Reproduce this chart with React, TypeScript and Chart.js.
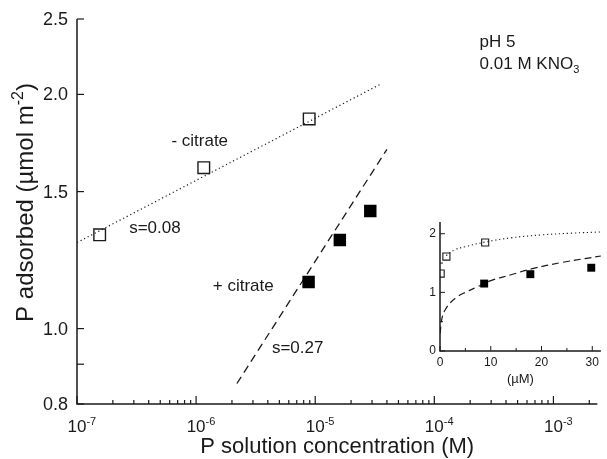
import React, { useEffect, useRef } from 'react';
import { Chart, registerables } from 'chart.js';

Chart.register(...registerables);

// ---------- main chart data ----------
const X_DECADES = [-7, -6, -5, -4, -3];
const Y_TICKS = [0.8, 0.9, 1.0, 1.5, 2.0, 2.5];
const Y_LABELS = ['0.8', '', '1.0', '1.5', '2.0', '2.5'];

const NO_CITRATE_X = [1.55e-7, 1.16e-6, 8.9e-6];
const NO_CITRATE_Y = [1.32, 1.61, 1.86];
const CITRATE_X = [8.8e-6, 1.61e-5, 2.9e-5];
const CITRATE_Y = [1.148, 1.3, 1.416];
const FIT_NO_CITRATE_X = [1e-7, 3.5e-5];
const FIT_NO_CITRATE_Y = [1.29, 2.06];
const FIT_CITRATE_X = [2.2e-6, 4.0e-5];
const FIT_CITRATE_Y = [0.85, 1.7];

// annotations: text, x (M), y (baseline value)
const NOTE_TEXT = ['- citrate', 's=0.08', '+ citrate', 's=0.27', 'pH 5'];
const NOTE_X = [6.2e-7, 2.74e-7, 1.38e-6, 4.33e-6, 2.4e-4];
const NOTE_Y = [1.718, 1.328, 1.119, 0.931, 2.304];
const SALT_X = 2.4e-4;
const SALT_Y = 2.155;

// ---------- inset data (µM) ----------
const INSET_X_TICKS = [0, 10, 20, 30];
const INSET_X_MINOR = [5, 15, 25];
const INSET_Y_TICKS = [0, 1, 2];
const INSET_Y_MINOR = [0.5, 1.5];
const INSET_NO_CIT_X = [0.13, 1.26, 8.9];
const INSET_NO_CIT_Y = [1.32, 1.61, 1.85];
const INSET_CIT_X = [8.7, 17.8, 29.8];
const INSET_CIT_Y = [1.15, 1.31, 1.42];
const INSET_FIT_NO_CIT_X = [1.2, 3, 5, 9, 14, 20, 26, 31.7];
const INSET_FIT_NO_CIT_Y = [1.63, 1.73, 1.78, 1.86, 1.93, 1.98, 2.01, 2.03];
const INSET_FIT_CIT_X = [0.05, 0.2, 0.5, 1, 2, 3.5, 5, 7.5, 10, 14, 18, 24, 31.7];
const INSET_FIT_CIT_Y = [0.3, 0.45, 0.6, 0.7, 0.82, 0.93, 1.0, 1.1, 1.2, 1.3, 1.4, 1.51, 1.62];

const FONT = '"Liberation Sans", Arial, Helvetica, sans-serif';
const INK = '#1a1a1a';

const pts = (xs: number[], ys: number[]) => xs.map((x, i) => ({ x, y: ys[i] }));

type Run = { t: string; s?: number };
function drawRuns(ctx: CanvasRenderingContext2D, runs: Run[], x: number, y: number, size: number, align: 'left' | 'center' | 'right') {
  const fontFor = (s: number) => `${s ? Math.round(size * 0.65) : size}px ${FONT}`;
  let total = 0;
  const widths = runs.map((r) => {
    ctx.font = fontFor(r.s || 0);
    const w = ctx.measureText(r.t).width;
    total += w;
    return w;
  });
  let cx = align === 'left' ? x : align === 'center' ? x - total / 2 : x - total;
  ctx.textAlign = 'left';
  ctx.textBaseline = 'alphabetic';
  runs.forEach((r, i) => {
    ctx.font = fontFor(r.s || 0);
    const dy = r.s === 1 ? -size * 0.42 : r.s === -1 ? size * 0.22 : 0;
    ctx.fillText(r.t, cx, y + dy);
    cx += widths[i];
  });
}

const mainPlugin = {
  id: 'mainDecor',
  afterDraw(chart: any) {
    const { ctx, chartArea: a, scales } = chart;
    const xs = scales.x;
    const ys = scales.y;
    ctx.save();
    ctx.strokeStyle = INK;
    ctx.fillStyle = INK;
    ctx.lineWidth = 1.5;
    ctx.beginPath();
    ctx.moveTo(a.left, a.top);
    ctx.lineTo(a.left, a.bottom);
    ctx.lineTo(a.right, a.bottom);
    ctx.stroke();

    ctx.lineWidth = 1.2;
    Y_TICKS.forEach((v, i) => {
      const py = ys.getPixelForValue(v);
      ctx.beginPath();
      ctx.moveTo(a.left, py);
      ctx.lineTo(a.left + 7, py);
      ctx.stroke();
      if (Y_LABELS[i]) {
        ctx.font = `18px ${FONT}`;
        ctx.textAlign = 'right';
        ctx.textBaseline = 'middle';
        ctx.fillText(Y_LABELS[i], a.left - 9, py + 1);
      }
    });

    X_DECADES.forEach((d) => {
      for (let m = 1; m <= 9; m++) {
        const v = m * Math.pow(10, d);
        if (v > xs.max) break;
        const px = xs.getPixelForValue(v);
        const len = m === 1 ? 8 : 4;
        ctx.beginPath();
        ctx.moveTo(px, a.bottom);
        ctx.lineTo(px, a.bottom - len);
        ctx.stroke();
      }
      const px = xs.getPixelForValue(Math.pow(10, d));
      ctx.font = `17px ${FONT}`;
      const w10 = ctx.measureText('10').width;
      drawRuns(ctx, [{ t: '10' }, { t: '-' + String(-d), s: 1 }], px - w10 / 2, a.bottom + 28, 17, 'left');
    });

    // axis titles
    drawRuns(ctx, [{ t: 'P solution concentration (M)' }], (a.left + a.right) / 2, 453, 22, 'center');
    ctx.save();
    ctx.translate(33, (a.top + a.bottom) / 2 - 9);
    ctx.rotate(-Math.PI / 2);
    drawRuns(ctx, [{ t: 'P adsorbed (\u00b5mol m' }, { t: '-2', s: 1 }, { t: ')' }], 0, 0, 24, 'center');
    ctx.restore();

    // annotations
    NOTE_TEXT.forEach((t, i) => {
      drawRuns(ctx, [{ t }], xs.getPixelForValue(NOTE_X[i]), ys.getPixelForValue(NOTE_Y[i]), 17, 'left');
    });
    drawRuns(ctx, [{ t: '0.01 M KNO' }, { t: '3', s: -1 }], xs.getPixelForValue(SALT_X), ys.getPixelForValue(SALT_Y), 17, 'left');
    ctx.restore();
  },
};

const insetPlugin = {
  id: 'insetDecor',
  afterDraw(chart: any) {
    const { ctx, chartArea: a, scales } = chart;
    const xs = scales.x;
    const ys = scales.y;
    ctx.save();
    ctx.strokeStyle = INK;
    ctx.fillStyle = INK;
    ctx.lineWidth = 1.5;
    ctx.beginPath();
    ctx.moveTo(a.left, a.top);
    ctx.lineTo(a.left, a.bottom);
    ctx.lineTo(a.right, a.bottom);
    ctx.stroke();
    ctx.lineWidth = 1;
    const tickX = (v: number, len: number) => {
      const px = xs.getPixelForValue(v);
      ctx.beginPath();
      ctx.moveTo(px, a.bottom);
      ctx.lineTo(px, a.bottom - len);
      ctx.stroke();
      return px;
    };
    const tickY = (v: number, len: number) => {
      const py = ys.getPixelForValue(v);
      ctx.beginPath();
      ctx.moveTo(a.left, py);
      ctx.lineTo(a.left + len, py);
      ctx.stroke();
      return py;
    };
    INSET_X_MINOR.forEach((v) => tickX(v, 3));
    INSET_Y_MINOR.forEach((v) => tickY(v, 3));
    ctx.font = `12px ${FONT}`;
    INSET_X_TICKS.forEach((v) => {
      const px = tickX(v, 5);
      ctx.textAlign = 'center';
      ctx.textBaseline = 'alphabetic';
      ctx.fillText(String(v), px, a.bottom + 15);
    });
    INSET_Y_TICKS.forEach((v) => {
      const py = tickY(v, 5);
      ctx.textAlign = 'right';
      ctx.textBaseline = 'middle';
      ctx.fillText(String(v), a.left - 4, py);
    });
    drawRuns(ctx, [{ t: '(\u00b5M)' }], (a.left + a.right) / 2, a.bottom + 32, 13, 'center');
    ctx.restore();
  },
};

function MainChart() {
  const ref = useRef<HTMLCanvasElement | null>(null);
  useEffect(() => {
    if (!ref.current) return;
    const chart = new Chart(ref.current, {
      type: 'scatter',
      data: {
        datasets: [
          {
            label: 'no citrate',
            data: pts(NO_CITRATE_X, NO_CITRATE_Y),
            pointStyle: 'rect',
            pointRadius: 8.2,
            pointBorderWidth: 1.4,
            pointBorderColor: INK,
            pointBackgroundColor: 'rgba(0,0,0,0)',
            showLine: false,
          },
          {
            label: 'citrate',
            data: pts(CITRATE_X, CITRATE_Y),
            pointStyle: 'rect',
            pointRadius: 8.8,
            pointBorderWidth: 0,
            pointBackgroundColor: '#000',
            showLine: false,
          },
          {
            label: 'fit no citrate',
            data: pts(FIT_NO_CITRATE_X, FIT_NO_CITRATE_Y),
            showLine: true,
            pointRadius: 0,
            borderColor: INK,
            borderWidth: 1.2,
            borderDash: [1.2, 2.8],
          },
          {
            label: 'fit citrate',
            data: pts(FIT_CITRATE_X, FIT_CITRATE_Y),
            showLine: true,
            pointRadius: 0,
            borderColor: INK,
            borderWidth: 1.3,
            borderDash: [8, 5],
          },
        ],
      },
      options: {
        animation: false,
        responsive: true,
        maintainAspectRatio: false,
        layout: { padding: { top: 19, right: 1, left: 0, bottom: 0 } },
        plugins: { legend: { display: false }, tooltip: { enabled: false } },
        scales: {
          x: {
            type: 'logarithmic',
            min: 1e-7,
            max: 2.34e-3,
            grid: { display: false },
            border: { display: false },
            ticks: { display: false },
            afterFit: (s: any) => { s.height = 55; },
          },
          y: {
            type: 'logarithmic',
            min: 0.8,
            max: 2.5,
            grid: { display: false },
            border: { display: false },
            ticks: { display: false },
            afterFit: (s: any) => { s.width = 77; },
          },
        },
      },
      plugins: [mainPlugin],
    } as any);
    return () => chart.destroy();
  }, []);
  return <canvas ref={ref} />;
}

function InsetChart() {
  const ref = useRef<HTMLCanvasElement | null>(null);
  useEffect(() => {
    if (!ref.current) return;
    const chart = new Chart(ref.current, {
      type: 'scatter',
      data: {
        datasets: [
          {
            label: 'no citrate',
            data: pts(INSET_NO_CIT_X, INSET_NO_CIT_Y),
            pointStyle: 'rect',
            pointRadius: 5,
            pointBorderWidth: 1.1,
            pointBorderColor: INK,
            pointBackgroundColor: 'rgba(0,0,0,0)',
            showLine: false,
          },
          {
            label: 'citrate',
            data: pts(INSET_CIT_X, INSET_CIT_Y),
            pointStyle: 'rect',
            pointRadius: 5.6,
            pointBorderWidth: 0,
            pointBackgroundColor: '#000',
            showLine: false,
          },
          {
            label: 'fit no citrate',
            data: pts(INSET_FIT_NO_CIT_X, INSET_FIT_NO_CIT_Y),
            showLine: true,
            pointRadius: 0,
            borderColor: INK,
            borderWidth: 1.1,
            borderDash: [1.2, 2.8],
            tension: 0.4,
          },
          {
            label: 'fit citrate',
            data: pts(INSET_FIT_CIT_X, INSET_FIT_CIT_Y),
            showLine: true,
            pointRadius: 0,
            borderColor: INK,
            borderWidth: 1.2,
            borderDash: [7, 4],
            tension: 0.4,
          },
        ],
      },
      options: {
        animation: false,
        responsive: true,
        maintainAspectRatio: false,
        layout: { padding: { top: 12, right: 0, left: 0, bottom: 0 } },
        plugins: { legend: { display: false }, tooltip: { enabled: false } },
        scales: {
          x: {
            type: 'linear',
            min: 0,
            max: 31.7,
            grid: { display: false },
            border: { display: false },
            ticks: { display: false },
            afterFit: (s: any) => { s.height = 44; },
          },
          y: {
            type: 'linear',
            min: 0,
            max: 2.2,
            grid: { display: false },
            border: { display: false },
            ticks: { display: false },
            afterFit: (s: any) => { s.width = 35; },
          },
        },
      },
      plugins: [insetPlugin],
    } as any);
    return () => chart.destroy();
  }, []);
  return <canvas ref={ref} />;
}

export default function App() {
  return (
    <div style={{ position: 'fixed', left: 0, top: 0, width: 607, height: 459, background: '#fff' }}>
      <div style={{ position: 'absolute', left: 0, top: 0, width: 607, height: 459 }}>
        <MainChart />
      </div>
      <div style={{ position: 'absolute', left: 405, top: 210, width: 202, height: 185 }}>
        <InsetChart />
      </div>
    </div>
  );
}
